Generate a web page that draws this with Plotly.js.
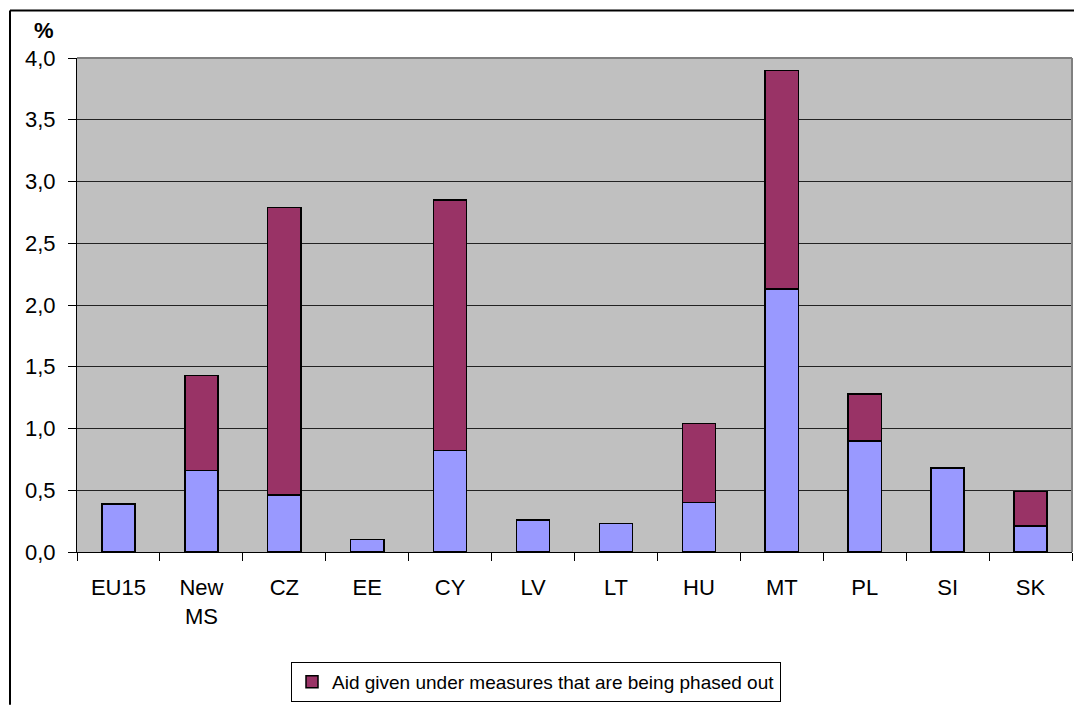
<!DOCTYPE html>
<html>
<head>
<meta charset="utf-8">
<script src="https://cdn.plot.ly/plotly-3.0.1.min.js"></script>
<style>
html,body{margin:0;padding:0;background:#fff;}
#chart{width:1074px;height:705px;}
</style>
</head>
<body>
<div id="chart"></div>
<script>
const categories = ["EU15", "New<br>MS", "CZ", "EE", "CY", "LV", "LT", "HU", "MT", "PL", "SI", "SK"];
const aidOther = [0.39, 0.66, 0.46, 0.10, 0.82, 0.26, 0.23, 0.40, 2.13, 0.90, 0.68, 0.21];
const aidPhasedOut = [0.00, 0.77, 2.33, 0.00, 2.03, 0.00, 0.00, 0.64, 1.77, 0.38, 0.00, 0.28];
const seriesNames = ["Other aid", "Aid given under measures that are being phased out"];

const W = 1074, H = 705;
const L = 77, R = 2, T = 57.5, B = 153;
const pw = W - L - R, ph = H - T - B;
const px = x => (x - L) / pw;
const py = y => (H - B - y) / ph;

const traces = [
  {type: "bar", x: categories, y: aidOther, name: seriesNames[0], showlegend: false,
   marker: {color: "#9999FF", line: {color: "#000", width: 1.5}}},
  {type: "bar", x: categories, y: aidPhasedOut.map(v => v === 0 ? null : v), name: seriesNames[1],
   marker: {color: "#993366", line: {color: "#000", width: 1.5}}}
];

const layout = {
  width: W, height: H,
  margin: {l: L, r: R, t: T, b: B, pad: 0},
  paper_bgcolor: "#fff",
  plot_bgcolor: "#C0C0C0",
  barmode: "stack",
  bargap: 0.6,
  separators: ",.",
  font: {family: "Liberation Sans, Arial, sans-serif", size: 22, color: "#000"},
  xaxis: {
    type: "category",
    showline: true, linecolor: "#000", linewidth: 1,
    ticks: "outside", tickson: "boundaries", ticklen: 8, tickcolor: "#000",
    showgrid: false, ticklabelstandoff: 16,
    tickfont: {size: 22}
  },
  yaxis: {
    range: [0, 4], dtick: 0.5, tickformat: ".1f",
    showline: true, linecolor: "#000", linewidth: 1,
    ticks: "outside", ticklen: 8, tickcolor: "#000",
    gridcolor: "#222", gridwidth: 1, zeroline: false,
    ticklabelstandoff: 8,
    tickfont: {size: 22}
  },
  legend: {
    orientation: "h", xref: "container", yref: "container",
    x: 536 / W, xanchor: "center", y: 1 - 662 / H, yanchor: "top",
    bordercolor: "#000", borderwidth: 1, bgcolor: "#fff",
    itemwidth: 30,
    font: {size: 19}
  },
  annotations: [
    {text: "<b>%</b>", xref: "paper", yref: "paper", x: px(44), y: py(30),
     xanchor: "center", yanchor: "middle", showarrow: false, font: {size: 22}}
  ],
  shapes: [
    {type: "line", xref: "paper", yref: "paper", x0: 0, x1: 1, y0: 1, y1: 1, line: {color: "#808080", width: 2}},
    {type: "line", xref: "paper", yref: "paper", x0: 1, x1: 1, y0: 0, y1: 1, line: {color: "#808080", width: 2}},
    {type: "line", xref: "paper", yref: "paper", x0: px(10), x1: px(1074), y0: py(10), y1: py(10), line: {color: "#000", width: 2}},
    {type: "line", xref: "paper", yref: "paper", x0: px(10), x1: px(10), y0: py(10), y1: py(705), line: {color: "#000", width: 2}}
  ]
};

Plotly.newPlot("chart", traces, layout, {displayModeBar: false, staticPlot: true});
</script>
</body>
</html>
